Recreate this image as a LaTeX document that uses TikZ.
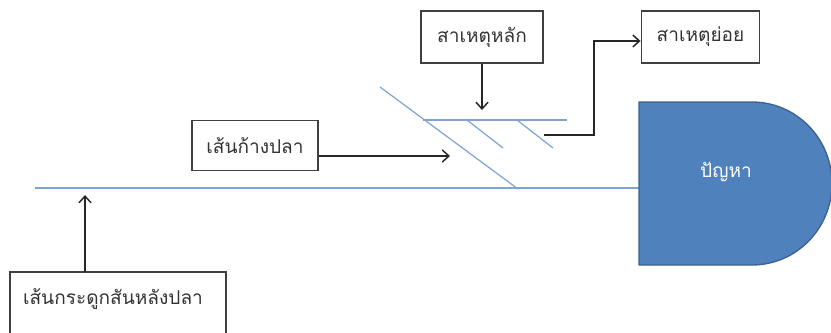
\documentclass[tikz,border=0pt]{standalone}
\usepackage{fontspec}
\newfontfamily\thaifont[Script=Thai]{Loma}
\usetikzlibrary{arrows.meta}
\definecolor{bone}{HTML}{7FA3D3}
\definecolor{probfill}{HTML}{4F81BD}
\definecolor{probdraw}{HTML}{3A6293}
\tikzset{
  thaitext/.style={font=\thaifont\fontsize{14.3}{16}\selectfont, text=black!80},
  lbl/.style={draw=black!75, line width=0.9pt, fill=white, inner sep=0pt, thaitext},
  bonestyle/.style={draw=bone, line width=0.9pt},
  arr/.style={draw=black!85, line width=1.1pt, -{Straight Barb[length=5pt,width=9pt,line width=1.1pt]}}
}
\begin{document}
\begin{tikzpicture}[x=0.75pt,y=-0.75pt]
\useasboundingbox (0,0) rectangle (831,332);
\fill[white] (0,0) rectangle (831,332);
% spine
\coordinate (spineL) at (35,188);
\coordinate (spineR) at (639,188);
\draw[bonestyle] (spineL) -- (spineR);
% problem head
\draw[fill=probfill, draw=probdraw, line width=1pt] (639,102) -- (752,102)
  arc[start angle=90, end angle=-90, x radius=60pt, y radius=61.125pt] -- (639,265) -- cycle;
\node[thaitext, text=white] (prob) at (726,172) {ปัญหา};
% main bone
\coordinate (boneA) at (380,87);
\coordinate (boneB) at (518,189);
\draw[bonestyle] (boneA) -- (boneB);
\coordinate (subL) at (423,120);
\coordinate (subR) at (567,120);
\draw[bonestyle] (subL) -- (subR);
\coordinate (s1a) at (467,120);
\coordinate (s1b) at (503,148);
\coordinate (s2a) at (517,120);
\coordinate (s2b) at (553,148);
\draw[bonestyle] (s1a) -- (s1b);
\draw[bonestyle] (s2a) -- (s2b);
% boxes
\node[lbl, minimum width=91.5pt, minimum height=39pt] (main) at (482,37) {สาเหตุหลัก};
\node[lbl, minimum width=89pt, minimum height=39pt] (sub) at (700.5,37) {สาเหตุย่อย};
\node[lbl, minimum width=94.5pt, minimum height=38pt] (rib) at (255,145.5) {เส้นก้างปลา};
\draw[lbl] (10,272) rectangle (226,340);
\node[thaitext] (spinelbl) at (113,299) {เส้นกระดูกสันหลังปลา};
% arrows
\coordinate (mainTip) at (482,110);
\draw[arr] (main.south) -- (mainTip);
\coordinate (ribTip) at (450,156);
\draw[arr] (rib.east |- ribTip) -- (ribTip);
\coordinate (subStart) at (544,135);
\draw[arr] (subStart) -- (594,135) -- (594,41) -- (sub.west |- 0,41);
\coordinate (spineTip) at (85,195);
\coordinate (spineBase) at (85,272);
\draw[arr] (spineBase) -- (spineTip);
\end{tikzpicture}
\end{document}
